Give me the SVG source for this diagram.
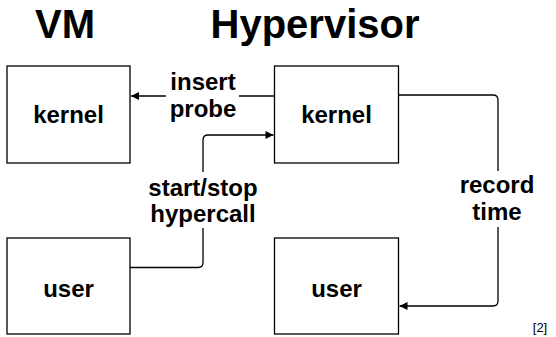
<svg xmlns="http://www.w3.org/2000/svg" width="556" height="337" viewBox="0 0 556 337">
<style>
text{font-family:"Liberation Sans",Arial,sans-serif;font-weight:bold;fill:#000;text-anchor:middle}
.t{font-size:40px}
.n{font-size:24px}
.box{fill:#fff;stroke:#000;stroke-width:1.3}
.c{fill:none;stroke:#000;stroke-width:1.3}
.bg{fill:#fff}
</style>
<defs>
<marker id="ah" markerWidth="10" markerHeight="10" refX="9" refY="5" orient="auto" markerUnits="userSpaceOnUse">
<path d="M1,1 L9,5 L1,9 Z" fill="#000"/>
</marker>
</defs>
<text class="t" x="65" y="38">VM</text>
<text class="t" x="315" y="38">Hypervisor</text>
<g id="vm-kernel"><rect class="box" x="7" y="66" width="123" height="97"/><text class="n" x="68.5" y="123">kernel</text></g>
<g id="hv-kernel"><rect class="box" x="274.5" y="66" width="124" height="97"/><text class="n" x="336.5" y="123">kernel</text></g>
<g id="vm-user"><rect class="box" x="7" y="238" width="123" height="96"/><text class="n" x="68.5" y="297">user</text></g>
<g id="hv-user"><rect class="box" x="274.5" y="238" width="124" height="96"/><text class="n" x="336.5" y="297">user</text></g>
<g id="connectors">
<path class="c" d="M274.5,96 L131,96" marker-end="url(#ah)"/>
<path class="c" d="M130,267.5 L198,267.5 Q203,267.5 203,262.5 L203,140 Q203,135 208,135 L273.5,135" marker-end="url(#ah)"/>
<path class="c" d="M398.5,95 L493,95 Q498,95 498,100 L498,301 Q498,306 493,306 L399.5,306" marker-end="url(#ah)"/>
<rect class="bg" x="166" y="70" width="73" height="55"/>
<text class="n" x="203" y="90">insert</text>
<text class="n" x="203" y="117">probe</text>
<rect class="bg" x="140" y="172" width="126" height="56"/>
<text class="n" x="203" y="196">start/stop</text>
<text class="n" x="203" y="222">hypercall</text>
<rect class="bg" x="458" y="171" width="80" height="56"/>
<text class="n" x="497" y="193">record</text>
<text class="n" x="497" y="220">time</text>
</g>
<text x="540" y="332" style="font-weight:normal;font-size:13px">[2]</text>
</svg>
